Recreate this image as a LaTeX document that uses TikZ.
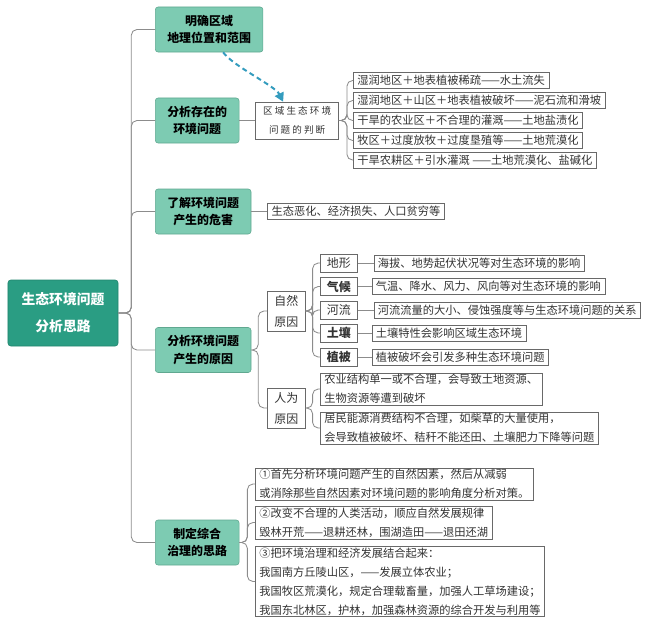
\documentclass[tikz,border=0pt]{standalone}
\usepackage{fontspec}
\setmainfont{Noto Sans CJK SC}
\newfontfamily\judgefont{Noto Sans CJK SC}[LetterSpace=22]
\usetikzlibrary{arrows.meta,positioning}
\definecolor{rootteal}{RGB}{42,157,131}
\definecolor{topicteal}{RGB}{125,203,178}
\definecolor{topicedge}{RGB}{96,168,144}
\definecolor{linegray}{RGB}{140,140,140}
\definecolor{boxgray}{RGB}{105,105,105}
\definecolor{arrowblue}{RGB}{52,156,190}

\begin{document}
\begin{tikzpicture}[x=0.025cm, y=-0.025cm,
  rootbox/.style={fill=rootteal, draw=rootteal!85!black, rounded corners=2pt,
                  text=white, font=\bfseries\fontsize{9.8}{19}\selectfont,
                  align=center, minimum width=2.75cm, minimum height=1.65cm},
  topic/.style={fill=topicteal, draw=topicedge, rounded corners=2pt,
                font=\bfseries\fontsize{8.5}{12.5}\selectfont, align=center,
                inner xsep=0.3cm, minimum height=1.125cm, anchor=west},
  leaf/.style={draw=boxgray, fill=white, text=black!80,
               font=\fontsize{8}{13.5}\selectfont, align=left,
               inner xsep=0.1cm, inner ysep=1pt, minimum height=0.39cm, anchor=west},
  factor/.style={leaf, align=center, inner xsep=0pt, minimum width=0.925cm,
                 minimum height=0.46cm, font=\fontsize{8.5}{10}\selectfont},
  cause/.style={leaf, align=center, inner xsep=0pt, minimum width=0.95cm,
                minimum height=1cm, font=\fontsize{8.5}{15}\selectfont},
  branch/.style={draw=linegray, semithick, rounded corners=4pt}]

  \useasboundingbox (0,0) rectangle (648,626);

  % centre and main topics
  \node[rootbox] (root) at (63,313) {生态环境问题\\分析思路};
  \node[topic] (q1) at (155,29.5) {明确区域\\地理位置和范围};
  \node[topic] (q2) at (155,120.5) {分析存在的\\环境问题};
  \node[topic] (q3) at (155,211.5) {了解环境问题\\产生的危害};
  \node[topic] (q4) at (155,350) {分析环境问题\\产生的原因};
  \node[topic] (q5) at (155,542.5) {制定综合\\治理的思路};

  % judging the problems
  \node[leaf, right=0.4cm of q2, align=center, minimum width=2.075cm,
        minimum height=0.925cm, font=\judgefont\fontsize{6.8}{13.5}\selectfont]
    (judge) {区域生态环境\\问题的判断};
  \node[leaf] (j1) at (353,80.5) {湿润地区＋地表植被稀疏——水土流失};
  \node[leaf] (j2) at (353,100.5) {湿润地区＋山区＋地表植被破坏——泥石流和滑坡};
  \node[leaf] (j3) at (353,120.5) {干旱的农业区＋不合理的灌溉——土地盐渍化};
  \node[leaf] (j4) at (353,140.5) {牧区＋过度放牧＋过度垦殖等——土地荒漠化};
  \node[leaf] (j5) at (353,160) {干旱农耕区＋引水灌溉 ——土地荒漠化、盐碱化};

  \node[leaf, right=0.4cm of q3] (harm) {生态恶化、经济损失、人口贫穷等};

  % causes
  \node[cause] (nat) at (267,311) {自然\\原因};
  \node[cause] (hum) at (267,408) {人为\\原因};
  \node[factor] (f1) at (320,263) {地形};
  \node[factor] (f2) at (320,286.5) {\textbf{气候}};
  \node[factor] (f3) at (320,310) {河流};
  \node[factor] (f4) at (320,333) {\textbf{土壤}};
  \node[factor] (f5) at (320,357) {\textbf{植被}};
  \node[leaf, right=0.4cm of f1] (d1) {海拔、地势起伏状况等对生态环境的影响};
  \node[leaf, right=0.35cm of f2] (d2) {气温、降水、风力、风向等对生态环境的影响};
  \node[leaf, right=0.4cm of f3] (d3) {河流流量的大小、侵蚀强度等与生态环境问题的关系};
  \node[leaf, right=0.35cm of f4] (d4) {土壤特性会影响区域生态环境};
  \node[leaf, right=0.35cm of f5] (d5) {植被破坏会引发多种生态环境问题};
  \node[leaf] (h1) at (320,389) {农业结构单一或不合理，会导致土地资源、\\生物资源等遭到破坏};
  \node[leaf] (h2) at (320,428) {居民能源消费结构不合理，如柴草的大量使用，\\会导致植被破坏、秸秆不能还田、土壤肥力下降等问题};

  % measures
  \node[leaf] (m1) at (255,484) {①首先分析环境问题产生的自然因素，然后从减弱\\或消除那些自然因素对环境问题的影响角度分析对策。};
  \node[leaf] (m2) at (255,522.5) {②改变不合理的人类活动，顺应自然发展规律\\毁林开荒——退耕还林，围湖造田——退田还湖};
  \node[leaf] (m3) at (255,581.5) {③把环境治理和经济发展结合起来：\\我国南方丘陵山区，——发展立体农业；\\我国牧区荒漠化，规定合理载畜量，加强人工草场建设；\\我国东北林区，护林，加强森林资源的综合开发与利用等};

  % spines
  \coordinate (trunk) at ([xshift=0.325cm]root.east);
  \coordinate (sj) at ([xshift=0.2cm]judge.east);
  \coordinate (sc) at ([xshift=0.175cm]q4.east);
  \coordinate (sn) at ([xshift=0.175cm]nat.east);
  \coordinate (sh) at ([xshift=0.175cm]hum.east);
  \coordinate (sm) at ([xshift=0.2cm]q5.east);

  \foreach \t in {q1,q2,q3,q4,q5}
    \draw[branch] (root.east) -- (trunk) |- (\t.west);
  \draw[branch] (q2.east) -- (judge.west);
  \foreach \t in {j1,j2,j3,j4,j5}
    \draw[branch] (judge.east) -- (sj) |- (\t.west);
  \draw[branch] (q3.east) -- (harm.west);
  \foreach \t in {nat,hum}
    \draw[branch] (q4.east) -- (sc) |- (\t.west);
  \foreach \t in {f1,f2,f3,f4,f5}
    \draw[branch] (nat.east) -- (sn) |- (\t.west);
  \foreach \i in {1,...,5}
    \draw[branch] (f\i.east) -- (d\i.west);
  \foreach \t in {h1,h2}
    \draw[branch] (hum.east) -- (sh) |- (\t.west);
  \foreach \t in {m1,m2,m3}
    \draw[branch] (q5.east) -- (sm) |- (\t.west);

  % dashed link to the judging box
  \draw[-{Triangle[length=2.2mm,width=2.4mm]}, arrowblue, line width=1.4pt,
        dash pattern=on 3.5pt off 2.5pt]
    ([xshift=0.35cm]q1.south) .. controls +(10,14) and +(-8,-16) .. ([xshift=-0.35cm]judge.north);
\end{tikzpicture}
\end{document}
